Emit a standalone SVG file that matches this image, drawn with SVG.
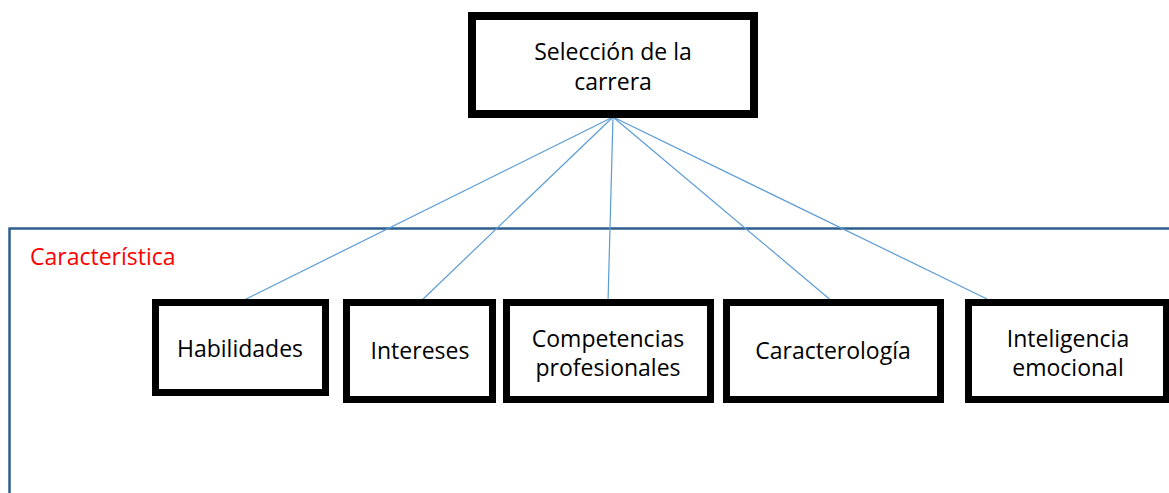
<svg xmlns="http://www.w3.org/2000/svg" width="1169" height="493" viewBox="0 0 1169 493">
<style>
.box{fill:#fff;stroke:#000;stroke-width:7}
.top{fill:#fff;stroke:#000;stroke-width:8}
.lbl{font-family:"Open Sans","Noto Sans","Liberation Sans",sans-serif;font-size:23px;fill:#000;text-anchor:middle}
.conn{stroke:#5B9BD5;stroke-width:1.2;fill:none}
</style>
<rect width="1169" height="493" fill="#fff"/>
<g id="container">
<path d="M9.5 493 V228.5 H1169" fill="none" stroke="#2F5E8E" stroke-width="2.5"/>
<text x="30" y="265" font-family="'Open Sans','Noto Sans','Liberation Sans',sans-serif" font-size="23" fill="#FF0000">Característica</text>
</g>
<g id="connectors">
<line class="conn" x1="613" y1="117" x2="240" y2="302"/>
<line class="conn" x1="613" y1="117" x2="420" y2="302"/>
<line class="conn" x1="613" y1="117" x2="608" y2="302"/>
<line class="conn" x1="613" y1="117" x2="833" y2="302"/>
<line class="conn" x1="613" y1="117" x2="987" y2="299"/>
</g>
<g id="seleccion">
<rect class="top" x="472" y="16" width="282" height="98"/>
<text class="lbl" x="613" y="60">Selección de la</text>
<text class="lbl" x="613" y="90">carrera</text>
</g>
<g id="habilidades">
<rect class="box" x="155.5" y="302.5" width="170" height="90"/>
<text class="lbl" x="240" y="357">Habilidades</text>
</g>
<g id="intereses">
<rect class="box" x="346.5" y="302.5" width="146" height="97"/>
<text class="lbl" x="420" y="359">Intereses</text>
</g>
<g id="competencias">
<rect class="box" x="506.5" y="302.5" width="204" height="97"/>
<text class="lbl" x="608" y="347">Competencias</text>
<text class="lbl" x="608" y="376">profesionales</text>
</g>
<g id="caracterologia">
<rect class="box" x="726.5" y="302.5" width="214" height="97"/>
<text class="lbl" x="833" y="359">Caracterología</text>
</g>
<g id="inteligencia">
<rect class="box" x="968.5" y="302.5" width="198" height="97"/>
<text class="lbl" x="1068" y="347">Inteligencia</text>
<text class="lbl" x="1068" y="376">emocional</text>
</g>
</svg>
